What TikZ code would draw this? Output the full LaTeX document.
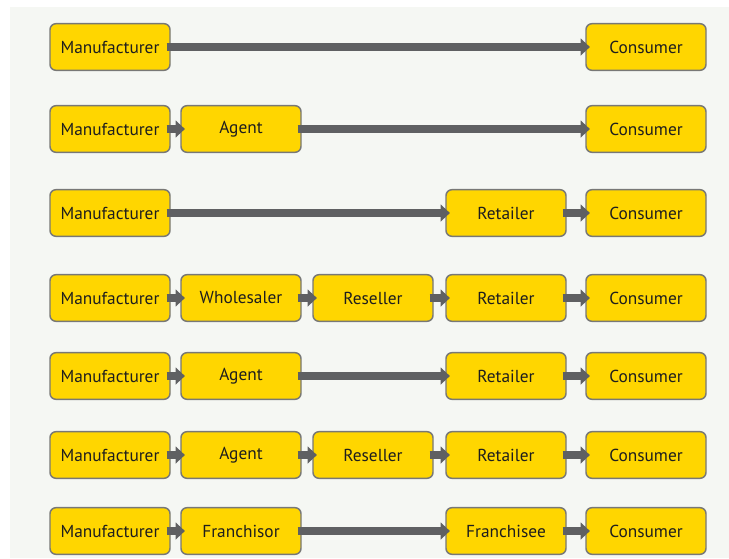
\documentclass[tikz,border=0pt]{standalone}
\usepackage{fontspec}
\setmainfont{PT Sans}
\usepackage{tikz}
\usetikzlibrary{arrows.meta}
\definecolor{boxgold}{RGB}{255,214,0}
\definecolor{boxline}{RGB}{120,120,118}
\definecolor{flowgrey}{RGB}{95,96,98}
\definecolor{pagegrey}{RGB}{245,247,243}
\definecolor{inkdark}{RGB}{30,30,30}
\tikzset{
  chbox/.style={draw=boxline, line width=1.1pt, fill=boxgold, rounded corners=4.5pt,
    minimum width=90pt, minimum height=35pt, inner sep=0pt, text=inkdark,
    font=\fontsize{13}{15}\selectfont},
  flow/.style={draw=flowgrey, line width=5.4pt, shorten <=-3pt, shorten >=-3.5pt,
    -{Triangle[length=7pt,width=12.5pt]}}
}

\begin{document}
\begin{tikzpicture}[x=0.75pt,y=-0.75pt]
    \useasboundingbox (0,0) rectangle (729,558);
    \fill[white] (0,0) rectangle (729,558);
    \fill[pagegrey] (10,7) rectangle (729,558);
    % row 1
    \node[chbox] (m1) at (110,47) {Manufacturer};
    \node[chbox] (c1) at (646,47) {Consumer};
    \draw[flow] (m1) -- (c1);
    % row 2
    \node[chbox] (m2) at (110,129) {Manufacturer};
    \node[chbox] (a2) at (241,129) {Agent};
    \node[chbox] (c2) at (646,129) {Consumer};
    \draw[flow] (m2) -- (a2);
    \draw[flow] (a2) -- (c2);
    % row 3
    \node[chbox] (m3) at (110,213) {Manufacturer};
    \node[chbox] (r3) at (506,213) {Retailer};
    \node[chbox] (c3) at (646,213) {Consumer};
    \draw[flow] (m3) -- (r3);
    \draw[flow] (r3) -- (c3);
    % row 4
    \node[chbox] (m4) at (110,298) {Manufacturer};
    \node[chbox] (w4) at (241,298) {Wholesaler};
    \node[chbox] (s4) at (373,298) {Reseller};
    \node[chbox] (r4) at (506,298) {Retailer};
    \node[chbox] (c4) at (646,298) {Consumer};
    \draw[flow] (m4) -- (w4);
    \draw[flow] (w4) -- (s4);
    \draw[flow] (s4) -- (r4);
    \draw[flow] (r4) -- (c4);
    % row 5
    \node[chbox] (m5) at (110,376) {Manufacturer};
    \node[chbox] (a5) at (241,376) {Agent};
    \node[chbox] (r5) at (506,376) {Retailer};
    \node[chbox] (c5) at (646,376) {Consumer};
    \draw[flow] (m5) -- (a5);
    \draw[flow] (a5) -- (r5);
    \draw[flow] (r5) -- (c5);
    % row 6
    \node[chbox] (m6) at (110,455) {Manufacturer};
    \node[chbox] (a6) at (241,455) {Agent};
    \node[chbox] (s6) at (373,455) {Reseller};
    \node[chbox] (r6) at (506,455) {Retailer};
    \node[chbox] (c6) at (646,455) {Consumer};
    \draw[flow] (m6) -- (a6);
    \draw[flow] (a6) -- (s6);
    \draw[flow] (s6) -- (r6);
    \draw[flow] (r6) -- (c6);
    % row 7
    \node[chbox] (m7) at (110,531) {Manufacturer};
    \node[chbox] (f7) at (241,531) {Franchisor};
    \node[chbox] (e7) at (506,531) {Franchisee};
    \node[chbox] (c7) at (646,531) {Consumer};
    \draw[flow] (m7) -- (f7);
    \draw[flow] (f7) -- (e7);
    \draw[flow] (e7) -- (c7);
\end{tikzpicture}
\end{document}
